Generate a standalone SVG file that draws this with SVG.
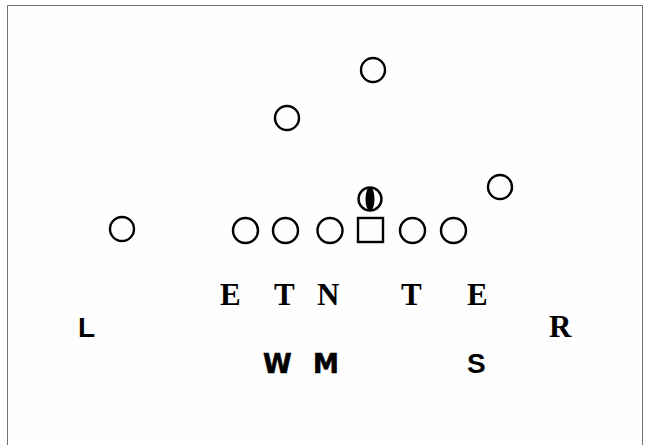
<svg xmlns="http://www.w3.org/2000/svg" width="645" height="445" viewBox="0 0 645 445">
<style>
.p{fill:none;stroke:#000;stroke-width:2.4}
.serif{font-family:"Liberation Serif","Times New Roman",serif;font-weight:bold;font-size:31px;fill:#000}
.sans{font-family:"DejaVu Sans","Liberation Sans",sans-serif;font-weight:bold;font-size:26px;fill:#000;stroke:#000;stroke-width:0.6}
.lsans{font-family:"Liberation Sans",Arial,sans-serif;font-weight:bold;font-size:28px;fill:#000}
</style>
<rect width="645" height="445" fill="#fff"/>
<path d="M7.5,446 V5.5 H642.5 V446" fill="#fefefe" stroke="#707070" stroke-width="1"/>
<g id="players">
<g id="o-top"><circle class="p" cx="373" cy="70" r="12"/></g>
<g id="o-back"><circle class="p" cx="287" cy="118" r="12"/></g>
<g id="o-wing"><circle class="p" cx="500" cy="187" r="12"/></g>
<g id="o-wide"><circle class="p" cx="122" cy="229" r="12"/></g>
<g id="o-qb"><circle class="p" cx="370" cy="199" r="11.5"/><ellipse cx="370" cy="199" rx="4.5" ry="12" fill="#000"/></g>
<g id="o-l1"><circle class="p" cx="245.5" cy="230.5" r="12.5"/></g>
<g id="o-l2"><circle class="p" cx="285.5" cy="230.5" r="12.5"/></g>
<g id="o-l3"><circle class="p" cx="330" cy="230.5" r="12.5"/></g>
<g id="o-c"><rect class="p" x="358" y="218" width="25" height="24"/></g>
<g id="o-r1"><circle class="p" cx="412.5" cy="230.5" r="12.5"/></g>
<g id="o-r2"><circle class="p" cx="453.5" cy="230.5" r="12.5"/></g>
</g>
<g id="defense">
<text class="serif" x="220" y="305">E</text>
<text class="serif" x="274" y="305">T</text>
<text class="serif" x="317" y="305">N</text>
<text class="serif" x="401" y="305">T</text>
<text class="serif" x="467" y="305">E</text>
<text class="lsans" x="78" y="337">L</text>
<text class="serif" x="549" y="337">R</text>
<text class="sans" x="263" y="373">W</text>
<text class="sans" x="313" y="373">M</text>
<text class="lsans" x="467" y="373">S</text>
</g>
<g id="connectors"></g>
</svg>
